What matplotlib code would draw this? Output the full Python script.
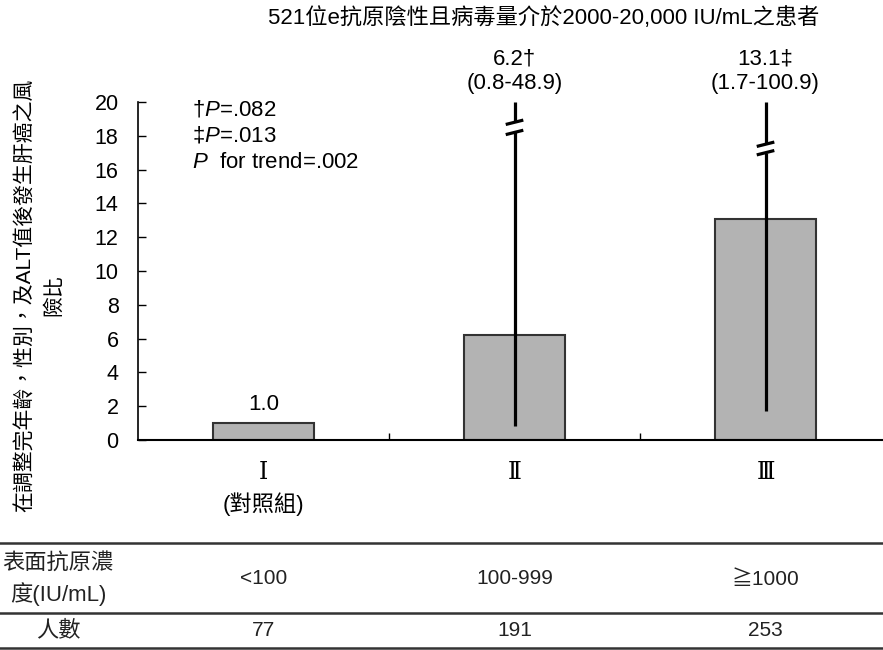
import matplotlib.pyplot as plt
import matplotlib.transforms as mtransforms
import numpy as np

plt.rcParams['font.family'] = ['Liberation Sans', 'Noto Sans CJK TC']
plt.rcParams['mathtext.fontset'] = 'custom'
plt.rcParams['mathtext.it'] = 'Liberation Sans:italic'
plt.rcParams['mathtext.rm'] = 'Liberation Sans'

# data
groups = ['Ⅰ', 'Ⅱ', 'Ⅲ']
group_notes = ['(對照組)', '', '']
hazard_ratios = [1.0, 6.2, 13.1]
ci_low = [None, 0.8, 1.7]
ci_high = [None, 48.9, 100.9]
marks = ['', '†', '‡']
# the CI lines run past the axis top, so each one is cut once
break_lo = [None, 18.2, 17.0]
break_hi = [None, 18.8, 17.5]
p_notes = ['†$P$=.082', '‡$P$=.013', '$P$  for trend=.002']
hbsag_levels = ['<100', '100-999', '≧1000']
n_patients = [77, 191, 253]

title = '521位e抗原陰性且病毒量介於2000-20,000 IU/mL之患者'
ylabel = '在調整完年齡，性別，及ALT值後發生肝癌之風\n險比'

fig = plt.figure(figsize=(8.83, 6.5), dpi=100)
ax = fig.add_axes([138 / 883, 210 / 650, 745 / 883, 338 / 650])

x = np.arange(len(groups))
ax.bar(x, hazard_ratios, width=0.4, color='#b3b3b3', edgecolor='#333333',
       linewidth=1.5, zorder=2)

ymax = 20
for i in x:
    if ci_low[i] is None:
        ax.annotate(f'{hazard_ratios[i]:.1f}', (i, hazard_ratios[i]), xytext=(0, 6),
                    textcoords='offset points', ha='center', va='bottom', fontsize=16)
        continue
    top = min(ci_high[i], ymax)
    kw = dict(color='black', lw=2.3, zorder=3, clip_on=False, solid_capstyle='butt')
    ax.plot([i, i], [ci_low[i], break_lo[i]], **kw)
    ax.plot([i, i], [break_hi[i], top], **kw)
    for b in (break_lo[i], break_hi[i]):
        ax.plot([i - 0.035, i + 0.035], [b - 0.13, b + 0.13], **kw)
    ax.annotate(f'{hazard_ratios[i]}{marks[i]}\n({ci_low[i]}-{ci_high[i]})', (i, top),
                xytext=(0, 6), textcoords='offset points', ha='center', va='bottom',
                fontsize=16, linespacing=1.2, annotation_clip=False)

ax.set_xlim(-0.5, 2.468)
ax.set_ylim(0, ymax)
ax.set_yticks(range(0, 21, 2))
ax.tick_params(axis='y', direction='in', length=6, labelsize=15.5, pad=14, width=1)
ax.set_xticks(x[:-1] + 0.5)
ax.set_xticklabels([])
ax.tick_params(axis='x', direction='in', length=5, width=1)
for s in ('top', 'right'):
    ax.spines[s].set_visible(False)
ax.spines['bottom'].set_linewidth(1.5)
ax.spines['left'].set_linewidth(1.2)

xa = ax.get_xaxis_transform()
for i in x:
    ax.text(i, -0.095, groups[i], transform=xa, ha='center', va='center',
            fontsize=17, family=['DejaVu Serif', 'Noto Sans CJK TC'])
    if group_notes[i]:
        ax.text(i, -0.19, group_notes[i], transform=xa, ha='center', va='center', fontsize=16)

for k, note in enumerate(p_notes):
    ax.text(0.0725, 0.976 - k * 0.078, note, transform=ax.transAxes,
            ha='left', va='center', fontsize=16)

fig.text(544 / 883, 1 - 18 / 650, title, ha='center', va='center', fontsize=16)
fig.text(39 / 883, 1 - 295 / 650, ylabel, rotation=90, ha='center', va='center',
         multialignment='center', fontsize=15, linespacing=1.55)

# table under the chart
for yp in (543, 613, 648):
    fig.add_artist(plt.Line2D([0, 1], [1 - yp / 650] * 2, color='#333333', lw=1.8,
                              transform=fig.transFigure))
tt = mtransforms.blended_transform_factory(ax.transData, fig.transFigure)
fig.text(58 / 883, 1 - 579 / 650, '表面抗原濃\n度(IU/mL)', ha='center', va='center',
         fontsize=16, linespacing=1.45, color='#222222')
fig.text(58 / 883, 1 - 631 / 650, '人數', ha='center', va='center', fontsize=16,
         color='#222222')
for i in x:
    fig.text(i, 1 - 579 / 650, hbsag_levels[i], transform=tt, ha='center', va='center',
             fontsize=15, color='#222222')
    fig.text(i, 1 - 631 / 650, str(n_patients[i]), transform=tt, ha='center', va='center',
             fontsize=15, color='#222222')

fig.savefig('out.png', dpi=100, facecolor='white')
